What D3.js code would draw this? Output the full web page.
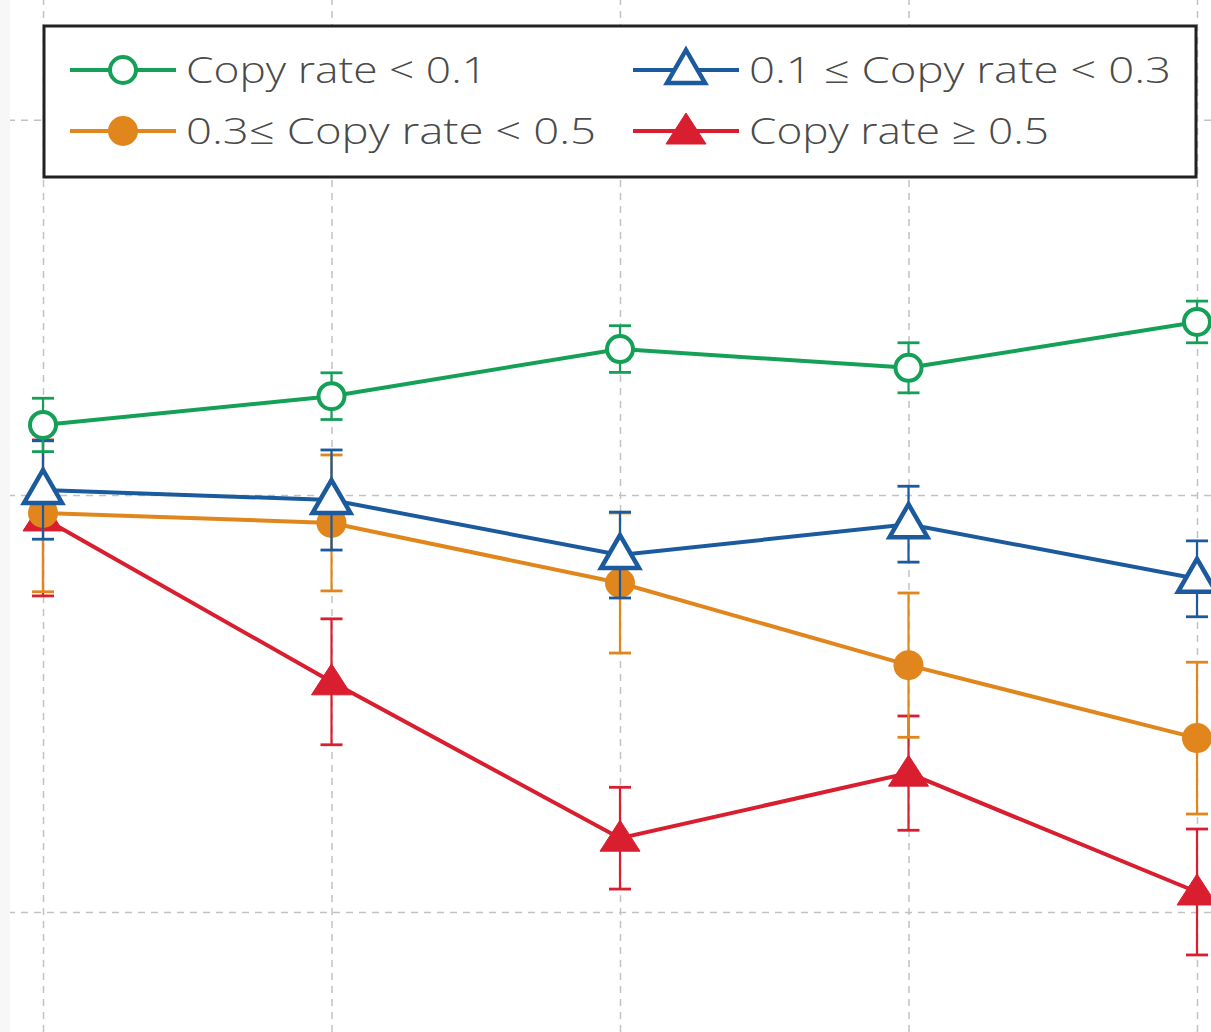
<!DOCTYPE html>
<html>
<head>
<meta charset="utf-8">
<script src="https://cdn.jsdelivr.net/npm/d3@7"></script>
<style>
    body { margin: 0; background: #ffffff; }
</style>
</head>
<body>
<div id="canvas"></div>
<script>
"use strict"

/* data (y in the chart's own units) */
let steps = [1, 2, 3, 4, 5];
let gridValues = [40, 50, 59];

let seriesNames = ["Copy rate < 0.1", "0.1 \u2264 Copy rate < 0.3", "0.3\u2264 Copy rate < 0.5", "Copy rate \u2265 0.5"];

let lowMeans = [51.68, 52.37, 53.50, 53.05, 54.15];
let lowErrors = [0.64, 0.56, 0.56, 0.60, 0.50];

let midMeans = [50.12, 49.88, 48.56, 49.30, 47.99];
let midErrors = [1.18, 1.20, 1.03, 0.91, 0.91];

let highMeans = [49.57, 49.33, 47.89, 45.92, 44.17];
let highErrors = [1.89, 1.63, 1.68, 1.73, 1.82];

let topMeans = [49.45, 45.52, 41.77, 43.33, 40.48];
let topErrors = [1.87, 1.51, 1.22, 1.37, 1.51];

/* set up the drawing canvas */
let width = 1211;
let height = 1032;

let drawing = d3.select("#canvas")
    .append("svg")
    .attr("width", width)
    .attr("height", height);

let xScale = d3.scaleLinear()
    .domain([1, 5])
    .range([43, 1197]);

let yScale = d3.scaleLinear()
    .domain([40, 50])
    .range([912, 495]);

// faint grey strip down the left edge of the scan
drawing.append("rect")
    .attr("x", 0)
    .attr("y", 0)
    .attr("width", 10)
    .attr("height", height)
    .attr("fill", "#f7f7f7");

/* dashed grid, drawn with the axis generators */
let xGrid = drawing.append("g")
    .attr("transform", "translate(0," + height + ")")
    .call(d3.axisBottom(xScale).tickValues(steps).tickSize(-height).tickFormat(""));

let yGrid = drawing.append("g")
    .attr("transform", "translate(" + width + ",0)")
    .call(d3.axisLeft(yScale).tickValues(gridValues).tickSize(width - 10).tickFormat(""));

drawing.selectAll(".domain").remove();
drawing.selectAll(".tick line")
    .attr("stroke", "#c2c2c2")
    .attr("stroke-width", 1.5)
    .attr("stroke-dasharray", "7,6");

/* one entry per group, bottom one first so the layering matches */
let groups = [
    { name: seriesNames[3], means: topMeans, errors: topErrors, color: "#d81e2f", shape: "triangle", filled: true },
    { name: seriesNames[2], means: highMeans, errors: highErrors, color: "#e0861c", shape: "circle", filled: true },
    { name: seriesNames[1], means: midMeans, errors: midErrors, color: "#1b5a9c", shape: "triangle", filled: false },
    { name: seriesNames[0], means: lowMeans, errors: lowErrors, color: "#14a157", shape: "circle", filled: false }
];

let lineMaker = d3.line()
    .x((d, i) => xScale(steps[i]))
    .y(d => yScale(d));

function drawMarker(parent, shape, filled, color, cx, cy) {
    if (shape == "circle") {
        parent.append("circle")
            .attr("cx", cx)
            .attr("cy", cy)
            .attr("r", filled ? 15 : 13)
            .attr("fill", filled ? color : "#ffffff")
            .attr("stroke", filled ? "none" : color)
            .attr("stroke-width", 4);
    } else {
        let half = filled ? 20 : 19;
        parent.append("path")
            .attr("d", "M" + cx + "," + (cy - (filled ? 18 : 20)) +
                " L" + (cx + half) + "," + (cy + 13) +
                " L" + (cx - half) + "," + (cy + 13) + " Z")
            .attr("fill", filled ? color : "#ffffff")
            .attr("stroke", color)
            .attr("stroke-width", filled ? 1 : 4.5)
            .attr("stroke-linejoin", "miter");
    }
}

groups.forEach(function (group) {
    let layer = drawing.append("g");

    // error bars with caps
    group.means.forEach(function (m, i) {
        let x = xScale(steps[i]);
        let yTop = yScale(m + group.errors[i]);
        let yBottom = yScale(m - group.errors[i]);

        layer.append("line")
            .attr("x1", x).attr("x2", x)
            .attr("y1", yTop).attr("y2", yBottom)
            .attr("stroke", group.color)
            .attr("stroke-width", 2.2);

        [yTop, yBottom].forEach(function (yc) {
            layer.append("line")
                .attr("x1", x - 11).attr("x2", x + 11)
                .attr("y1", yc).attr("y2", yc)
                .attr("stroke", group.color)
                .attr("stroke-width", 2.8);
        });
    });

    layer.append("path")
        .attr("d", lineMaker(group.means))
        .attr("fill", "none")
        .attr("stroke", group.color)
        .attr("stroke-width", 4);

    group.means.forEach(function (m, i) {
        drawMarker(layer, group.shape, group.filled, group.color, xScale(steps[i]), yScale(m));
    });
});

/* legend box */
let legend = drawing.append("g");

legend.append("rect")
    .attr("x", 44)
    .attr("y", 26)
    .attr("width", 1152)
    .attr("height", 151)
    .attr("fill", "#ffffff")
    .attr("stroke", "#222222")
    .attr("stroke-width", 3);

// legend order as in the picture: left column, then right column, row by row
let legendItems = [
    { group: groups[3], x: 70, y: 70, textWidth: 301 },
    { group: groups[2], x: 633, y: 70, textWidth: 422 },
    { group: groups[1], x: 70, y: 131, textWidth: 410 },
    { group: groups[0], x: 633, y: 131, textWidth: 300 }
];

legendItems.forEach(function (item) {
    legend.append("line")
        .attr("x1", item.x).attr("x2", item.x + 106)
        .attr("y1", item.y).attr("y2", item.y)
        .attr("stroke", item.group.color)
        .attr("stroke-width", 4);

    drawMarker(legend, item.group.shape, item.group.filled, item.group.color, item.x + 53, item.y);

    legend.append("text")
        .attr("x", item.x + 116)
        .attr("y", item.y - 2)
        .attr("dominant-baseline", "central")
        .attr("font-family", "Open Sans, Liberation Sans, sans-serif")
        .attr("font-weight", 300)
        .attr("font-size", 37)
        .attr("fill", "#4a4a4a")
        .attr("textLength", item.textWidth)
        .attr("lengthAdjust", "spacingAndGlyphs")
        .text(item.group.name);
});
</script>
</body>
</html>
